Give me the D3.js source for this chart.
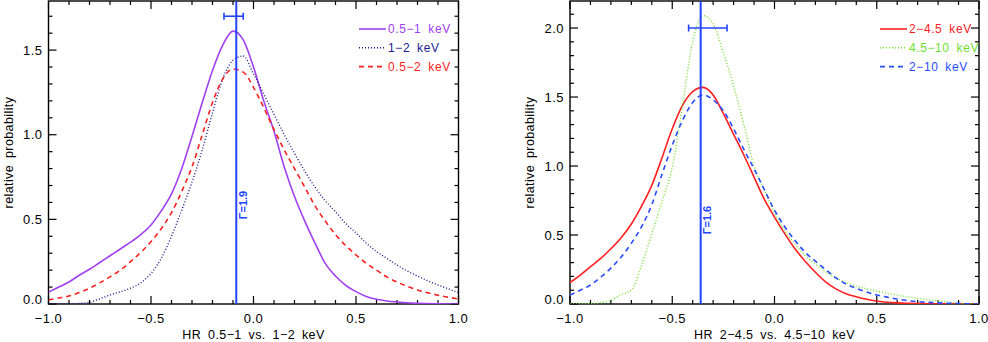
<!DOCTYPE html>
<html>
<head>
<meta charset="utf-8">
<script src="https://cdn.jsdelivr.net/npm/d3@7"></script>
<style>
  body { margin: 0; background: #fff; }
  svg { display: block; font-family: "Liberation Sans", Arial, sans-serif; }
</style>
</head>
<body>
<svg id="chart" width="988" height="342"></svg>
<script>
// hardness ratio grid shared by all curves
var hrGrid = [-1, -0.95, -0.9, -0.85, -0.8, -0.75, -0.7, -0.65, -0.6, -0.55, -0.5, -0.45, -0.4, -0.35, -0.3, -0.25, -0.2, -0.15, -0.1, -0.05,
  0, 0.05, 0.1, 0.15, 0.2, 0.25, 0.3, 0.35, 0.4, 0.45, 0.5, 0.55, 0.6, 0.65, 0.7, 0.75, 0.8, 0.85, 0.9, 0.95, 1];

// left panel: HR 0.5-1 vs 1-2 keV
var soft05_1 = [0.07, 0.10, 0.13, 0.17, 0.205, 0.245, 0.285, 0.325, 0.365, 0.41, 0.467, 0.55, 0.65, 0.80, 0.99, 1.19, 1.38, 1.53, 1.612, 1.56,
  1.40, 1.20, 1.02, 0.81, 0.635, 0.49, 0.36, 0.24, 0.165, 0.11, 0.073, 0.045, 0.028, 0.018, 0.012, 0.007, 0.004, 0.002, 0.001, 0, 0];
var soft1_2 = [0, 0, 0, 0.003, 0.01, 0.03, 0.053, 0.072, 0.093, 0.125, 0.18, 0.27, 0.40, 0.555, 0.72, 0.91, 1.13, 1.33, 1.44, 1.465,
  1.36, 1.24, 1.12, 1.00, 0.89, 0.785, 0.69, 0.61, 0.545, 0.475, 0.42, 0.36, 0.31, 0.27, 0.23, 0.195, 0.165, 0.137, 0.112, 0.09, 0.067];
var soft05_2 = [0.024, 0.035, 0.047, 0.068, 0.093, 0.125, 0.16, 0.2, 0.25, 0.305, 0.368, 0.445, 0.54, 0.665, 0.81, 1.0, 1.19, 1.33, 1.388, 1.37,
  1.28, 1.16, 1.03, 0.91, 0.80, 0.69, 0.58, 0.49, 0.41, 0.345, 0.29, 0.24, 0.20, 0.16, 0.13, 0.105, 0.083, 0.066, 0.052, 0.04, 0.03];

// right panel: HR 2-4.5 vs 4.5-10 keV
var hard2_45 = [0.155, 0.21, 0.27, 0.33, 0.40, 0.48, 0.58, 0.71, 0.86, 1.06, 1.27, 1.44, 1.54, 1.57, 1.515, 1.38, 1.23, 1.08, 0.92, 0.76,
  0.63, 0.51, 0.40, 0.31, 0.23, 0.16, 0.11, 0.075, 0.053, 0.035, 0.022, 0.013, 0.008, 0.005, 0.003, 0.002, 0.001, 0.001, 0, 0, 0];
var hard45_10 = [0, 0, 0.003, 0.01, 0.026, 0.068, 0.10, 0.28, 0.51, 0.745, 0.99, 1.44, 1.90, 2.09, 2.03, 1.82, 1.58, 1.30, 1.00, 0.83,
  0.66, 0.53, 0.435, 0.35, 0.29, 0.235, 0.19, 0.155, 0.13, 0.11, 0.094, 0.078, 0.065, 0.052, 0.041, 0.031, 0.022, 0.014, 0.007, 0.003, 0];
var hard2_10 = [0.065, 0.10, 0.138, 0.195, 0.26, 0.34, 0.44, 0.56, 0.72, 0.94, 1.15, 1.33, 1.46, 1.515, 1.48, 1.40, 1.27, 1.12, 0.98, 0.83,
  0.68, 0.56, 0.46, 0.375, 0.31, 0.25, 0.19, 0.145, 0.114, 0.087, 0.065, 0.05, 0.036, 0.025, 0.017, 0.012, 0.008, 0.005, 0.003, 0.001, 0];

// Gamma reference lines and their error bars
var softGamma = {hr: -0.084, lo: -0.144, hi: -0.05, y: 1.7, label: "\u0393=1.9"};
var hardGamma = {hr: -0.361, lo: -0.42, hi: -0.232, y: 2.0, label: "\u0393=1.6"};

var xTickVals = [-1, -0.5, 0, 0.5, 1];

var svg = d3.select("#chart");

function drawPanel(p){
	var x = d3.scaleLinear().domain([-1,1]).range([p.left, p.right]);
	var y = d3.scaleLinear().domain([0, p.ymax]).range([p.bottom, p.top]);
	var g = svg.append("g");

	// minor / major ticks on all four sides, pointing inward
	var xMinor = d3.range(-10, 11).map(function(d){return d/10;});
	var yMinor = d3.range(0, Math.floor(p.ymax*10)+1).map(function(d){return d/10;});
	function isMajor(v){ return Math.abs(v*2 - Math.round(v*2)) < 1e-6; }

	xMinor.forEach(function(v){
		var len = isMajor(v) ? 8 : 4;
		g.append("line").attr("x1",x(v)).attr("x2",x(v)).attr("y1",p.bottom).attr("y2",p.bottom-len)
			.attr("stroke","#000").attr("stroke-width",1.2);
		g.append("line").attr("x1",x(v)).attr("x2",x(v)).attr("y1",p.top).attr("y2",p.top+len)
			.attr("stroke","#000").attr("stroke-width",1.2);
	});
	yMinor.forEach(function(v){
		var len = isMajor(v) ? 8 : 4;
		g.append("line").attr("x1",p.left).attr("x2",p.left+len).attr("y1",y(v)).attr("y2",y(v))
			.attr("stroke","#000").attr("stroke-width",1.2);
		g.append("line").attr("x1",p.right).attr("x2",p.right-len).attr("y1",y(v)).attr("y2",y(v))
			.attr("stroke","#000").attr("stroke-width",1.2);
	});

	g.append("rect").attr("x",p.left).attr("y",p.top).attr("width",p.right-p.left).attr("height",p.bottom-p.top)
		.attr("fill","none").attr("stroke","#000").attr("stroke-width",1.4);

	// tick labels
	g.selectAll(".xl").data(xTickVals).enter().append("text")
		.attr("x",function(d){return x(d);}).attr("y",p.bottom+19)
		.attr("text-anchor","middle").attr("font-size",13).attr("letter-spacing",0.5)
		.text(function(d){return d3.format(".1f")(d).replace("-","\u2212");});

	var yTickVals = d3.range(0, p.ymax+0.001, 0.5);
	g.selectAll(".yl").data(yTickVals).enter().append("text")
		.attr("x",p.left-6).attr("y",function(d){return Math.min(y(d), p.bottom-5);})
		.attr("dy","0.35em").attr("text-anchor","end").attr("font-size",13).attr("letter-spacing",0.5)
		.text(function(d){return d3.format(".1f")(d);});

	// axis titles
	g.append("text").attr("x",(p.left+p.right)/2).attr("y",339)
		.attr("text-anchor","middle").attr("font-size",12.5).attr("word-spacing",3).attr("letter-spacing",0.4)
		.text(p.xtitle);
	g.append("text").attr("transform","translate("+(p.left-36)+","+((p.top+p.bottom)/2)+") rotate(-90)")
		.attr("text-anchor","middle").attr("font-size",12.5).attr("word-spacing",3).attr("letter-spacing",0.4)
		.text("relative probability");

	// curves
	var clip = "clip"+p.id;
	g.append("clipPath").attr("id",clip).append("rect")
		.attr("x",p.left).attr("y",p.top).attr("width",p.right-p.left).attr("height",p.bottom-p.top);

	var line = d3.line()
		.x(function(d,i){return x(hrGrid[i]);})
		.y(function(d){return y(d);})
		.curve(d3.curveMonotoneX);

	p.series.forEach(function(s){
		g.append("path").datum(s.values).attr("d",line)
			.attr("clip-path","url(#"+clip+")")
			.attr("fill","none").attr("stroke",s.color).attr("stroke-width",s.width)
			.attr("stroke-dasharray",s.dash);
	});

	// gamma line, error bar and label
	var gm = p.gamma, gc = "#2244ff";
	g.append("line").attr("x1",x(gm.hr)).attr("x2",x(gm.hr)).attr("y1",p.top).attr("y2",p.bottom)
		.attr("stroke",gc).attr("stroke-width",2);
	g.append("line").attr("x1",x(gm.lo)).attr("x2",x(gm.hi)).attr("y1",y(gm.y)).attr("y2",y(gm.y))
		.attr("stroke",gc).attr("stroke-width",1.6);
	[gm.lo, gm.hi].forEach(function(v){
		g.append("line").attr("x1",x(v)).attr("x2",x(v)).attr("y1",y(gm.y)-3.5).attr("y2",y(gm.y)+3.5)
			.attr("stroke",gc).attr("stroke-width",1.6);
	});
	g.append("text").attr("transform","translate("+(x(gm.hr)+10.5)+","+p.gammaLabelY+") rotate(-90)")
		.attr("text-anchor","middle").attr("font-size",11).attr("font-weight","bold").attr("fill",gc)
		.text(gm.label);

	// legend
	p.series.forEach(function(s,i){
		var ly = 29 + i*18.8;
		g.append("line").attr("x1",p.legendX).attr("x2",p.legendX+27).attr("y1",ly).attr("y2",ly)
			.attr("stroke",s.color).attr("stroke-width",s.width).attr("stroke-dasharray",s.dash);
		g.append("text").attr("x",p.legendX+29).attr("y",ly).attr("dy","0.36em")
			.attr("font-size",12).attr("letter-spacing",0.6).attr("word-spacing",3).attr("fill",s.color)
			.text(s.name);
	});
}

drawPanel({
	id: "L", left: 48.5, right: 458.5, top: 1, bottom: 304, ymax: 1.79,
	xtitle: "HR 0.5\u22121 vs. 1\u22122 keV", gamma: softGamma, gammaLabelY: 205, legendX: 359,
	series: [
		{name: "0.5\u22121 keV", values: soft05_1, color: "#a040f0", width: 1.6, dash: null},
		{name: "1\u22122 keV", values: soft1_2, color: "#1a1a90", width: 1.4, dash: "1,2"},
		{name: "0.5\u22122 keV", values: soft05_2, color: "#ff2020", width: 1.6, dash: "5,4"}
	]
});

drawPanel({
	id: "R", left: 570, right: 979, top: 1, bottom: 304, ymax: 2.196,
	xtitle: "HR 2\u22124.5 vs. 4.5\u221210 keV", gamma: hardGamma, gammaLabelY: 220, legendX: 880,
	series: [
		{name: "2\u22124.5 keV", values: hard2_45, color: "#ff2020", width: 1.6, dash: null},
		{name: "4.5\u221210 keV", values: hard45_10, color: "#70e030", width: 1.4, dash: "1,2"},
		{name: "2\u221210 keV", values: hard2_10, color: "#2a4cff", width: 1.6, dash: "5,4"}
	]
});
</script>
</body>
</html>
